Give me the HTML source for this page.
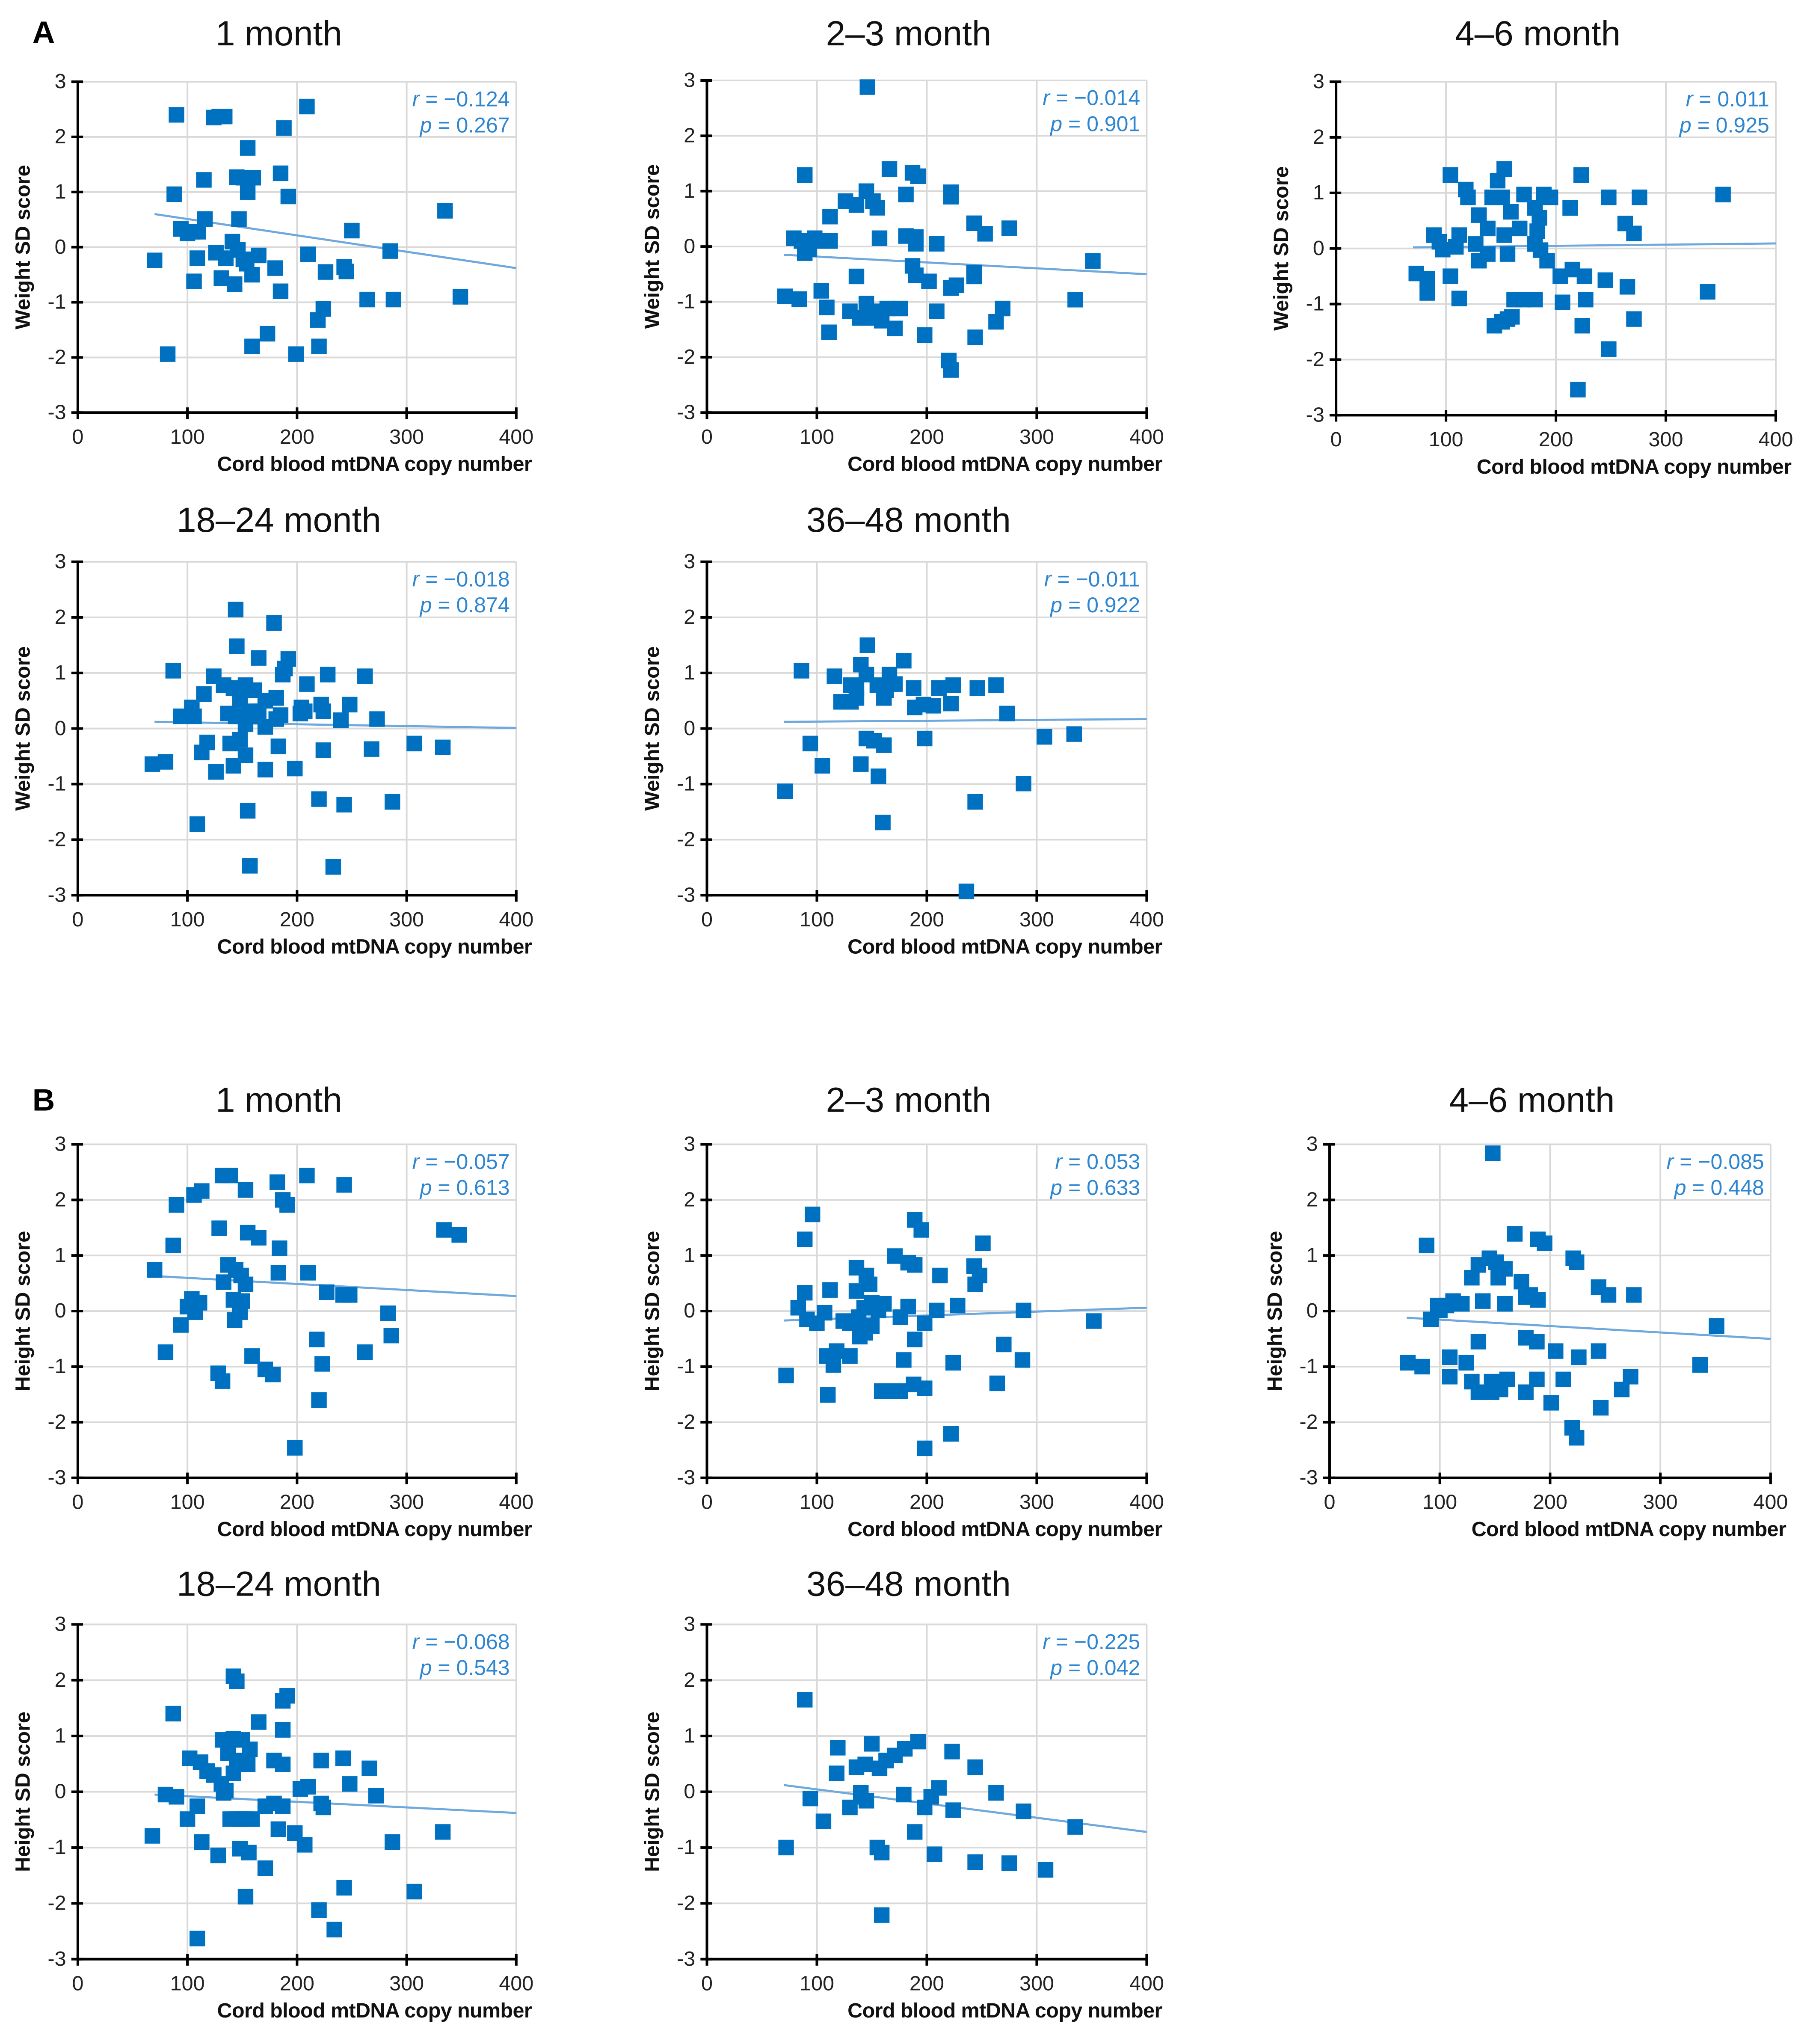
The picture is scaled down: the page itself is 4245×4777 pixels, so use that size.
<!DOCTYPE html>
<html><head><meta charset="utf-8"><style>
html,body{margin:0;padding:0;background:#fff;}
svg{display:block;}
text{font-family:"Liberation Sans",Arial,sans-serif;}
</style></head><body>
<svg id="fig" xmlns="http://www.w3.org/2000/svg" width="4245" height="4777" viewBox="0 0 1400 1575.4" preserveAspectRatio="none">
<text x="25" y="33" font-size="24" font-weight="bold">A</text>
<text x="25" y="856" font-size="24" font-weight="bold">B</text>
</svg>
<script>
const xTicks=[0,100,200,300,400];
const yTicks=[3,2,1,0,-1,-2,-3];
const a1X=[90,124,129,134,209,188,155,115,145,151,160,155,185,192,88,335,116,147,94,100,105,110,250,70,109,126,135,141,146,151,154,165,159,131,143,106,180,210,226,243,245,285,185,264,288,349,219,224,173,159,220,199,82];
const a1Y=[2.4,2.35,2.37,2.37,2.55,2.16,1.8,1.22,1.27,1.26,1.26,1.0,1.34,0.92,0.96,0.66,0.51,0.51,0.33,0.25,0.28,0.28,0.3,-0.24,-0.2,-0.1,-0.2,0.1,-0.05,-0.22,-0.3,-0.15,-0.5,-0.56,-0.67,-0.62,-0.38,-0.13,-0.45,-0.36,-0.44,-0.07,-0.8,-0.95,-0.95,-0.9,-1.32,-1.12,-1.57,-1.8,-1.8,-1.94,-1.94];
const a2X=[146,89,166,187,192,222,222,145,136,126,151,155,181,243,253,275,112,98,79,86,103,112,93,157,181,190,190,209,89,136,187,190,227,222,243,243,202,71,84,104,109,130,145,150,157,164,159,139,176,209,269,263,111,171,198,244,220,222,335,351];
const a2Y=[2.88,1.29,1.4,1.33,1.27,0.98,0.9,1.0,0.75,0.82,0.82,0.7,0.94,0.42,0.23,0.33,0.54,0.15,0.15,0.1,0.1,0.1,-0.05,0.15,0.19,0.17,0.05,0.05,-0.12,-0.54,-0.35,-0.52,-0.7,-0.75,-0.47,-0.54,-0.63,-0.9,-0.95,-0.8,-1.1,-1.17,-1.03,-1.29,-1.17,-1.12,-1.34,-1.29,-1.12,-1.17,-1.12,-1.36,-1.55,-1.48,-1.6,-1.64,-2.06,-2.23,-0.96,-0.26];
const a3X=[220,352,338,276,271,263,248,223,213,104,153,147,142,151,118,120,171,189,195,181,185,183,181,159,167,130,138,153,112,127,89,94,97,109,83,73,104,112,130,138,83,156,186,192,204,215,226,245,265,271,227,206,162,170,156,160,144,151,181,224,248];
const a3Y=[-2.54,0.97,-0.78,0.92,0.27,0.45,0.92,1.32,0.73,1.32,1.43,1.22,0.92,0.92,1.06,0.92,0.97,0.97,0.92,0.73,0.55,0.31,0.08,0.66,0.36,0.6,0.36,0.24,0.24,0.08,0.24,0.12,-0.02,0.03,-0.55,-0.45,-0.5,-0.9,-0.22,-0.1,-0.8,-0.1,-0.03,-0.22,-0.5,-0.38,-0.5,-0.57,-0.69,-1.27,-0.92,-0.97,-0.92,-0.92,-1.27,-1.23,-1.39,-1.32,-0.92,-1.39,-1.81];
const a4X=[144,179,145,165,192,189,187,87,124,228,262,133,142,153,161,115,209,181,171,148,104,106,157,161,165,137,144,204,207,222,224,203,248,240,273,94,181,185,153,171,118,139,148,113,153,183,224,268,68,80,126,142,171,198,307,333,220,243,287,109,155,157,233];
const a4Y=[2.14,1.9,1.48,1.27,1.25,1.08,0.97,1.04,0.94,0.97,0.94,0.78,0.73,0.78,0.69,0.62,0.8,0.55,0.5,0.5,0.38,0.22,0.31,0.22,0.31,0.27,0.22,0.38,0.31,0.43,0.31,0.27,0.43,0.15,0.17,0.22,0.17,0.24,0.08,0.03,-0.25,-0.27,-0.2,-0.43,-0.48,-0.32,-0.39,-0.37,-0.64,-0.6,-0.78,-0.67,-0.74,-0.72,-0.27,-0.34,-1.27,-1.37,-1.32,-1.72,-1.48,-2.47,-2.49];
const a5X=[146,179,140,145,86,166,116,131,136,155,163,171,188,211,224,263,246,122,131,136,161,197,206,222,189,273,145,152,161,198,94,307,334,105,140,156,71,288,244,160,236];
const a5Y=[1.5,1.22,1.15,0.97,1.04,0.97,0.94,0.78,0.73,0.78,0.69,0.8,0.73,0.73,0.78,0.78,0.73,0.48,0.48,0.55,0.55,0.43,0.41,0.45,0.38,0.27,-0.18,-0.22,-0.3,-0.18,-0.27,-0.15,-0.1,-0.67,-0.64,-0.86,-1.13,-0.99,-1.32,-1.69,-2.93];
const b1X=[132,139,209,182,243,106,113,153,90,187,191,129,155,165,184,87,334,348,70,137,144,149,133,153,210,183,104,111,100,94,107,142,150,148,143,227,242,248,283,286,80,159,171,178,128,132,218,223,262,220,198];
const b1Y=[2.44,2.44,2.44,2.32,2.27,2.09,2.16,2.18,1.91,2.0,1.91,1.49,1.41,1.32,1.13,1.18,1.46,1.37,0.74,0.83,0.74,0.64,0.52,0.48,0.69,0.69,0.22,0.15,0.08,-0.25,-0.02,0.2,0.18,-0.02,-0.16,0.34,0.29,0.29,-0.04,-0.44,-0.74,-0.81,-1.05,-1.14,-1.12,-1.26,-0.51,-0.95,-0.74,-1.6,-2.46];
const b2X=[96,189,195,89,251,171,136,145,183,189,212,243,248,244,148,112,136,89,83,91,100,107,124,130,138,143,150,156,161,144,150,139,176,183,198,228,209,288,109,115,118,130,179,189,224,72,110,159,168,176,188,198,264,270,287,352,222,198];
const b2Y=[1.74,1.64,1.46,1.29,1.22,0.99,0.78,0.64,0.87,0.83,0.64,0.81,0.64,0.48,0.48,0.38,0.36,0.33,0.06,-0.15,-0.22,-0.03,-0.18,-0.22,-0.11,0.06,0.15,0.01,0.13,-0.39,-0.27,-0.46,-0.11,0.08,-0.22,0.1,0.01,0.01,-0.81,-0.97,-0.72,-0.81,-0.88,-0.51,-0.93,-1.16,-1.51,-1.44,-1.44,-1.44,-1.32,-1.39,-1.3,-0.6,-0.88,-0.18,-2.21,-2.47];
const b3X=[148,168,189,195,88,145,135,129,159,153,151,221,224,244,253,276,174,182,189,178,159,139,92,100,98,106,112,120,135,109,124,178,188,205,226,244,71,84,109,129,147,155,161,147,135,178,188,212,201,246,273,265,220,224,336,351];
const b3Y=[2.84,1.39,1.29,1.22,1.18,0.95,0.83,0.6,0.76,0.6,0.88,0.95,0.88,0.43,0.29,0.29,0.53,0.29,0.2,0.25,0.13,0.18,-0.15,0.01,0.1,0.1,0.18,0.13,-0.55,-0.83,-0.93,-0.48,-0.55,-0.72,-0.83,-0.72,-0.93,-1.0,-1.18,-1.27,-1.27,-1.41,-1.23,-1.46,-1.46,-1.46,-1.23,-1.23,-1.65,-1.74,-1.18,-1.41,-2.1,-2.28,-0.97,-0.27];
const b4X=[109,142,145,191,187,87,165,132,142,150,187,157,137,102,112,118,124,145,155,179,187,222,266,248,242,142,131,135,80,90,109,100,133,139,144,149,153,159,171,179,187,203,210,222,224,272,68,113,128,148,156,171,153,183,198,207,287,243,220,234,307,333];
const b4Y=[-2.63,2.07,1.98,1.72,1.63,1.4,1.25,0.93,0.95,0.93,1.11,0.76,0.69,0.6,0.53,0.37,0.3,0.56,0.49,0.56,0.49,0.56,0.42,0.14,0.6,0.33,0.14,0.02,-0.05,-0.09,-0.26,-0.49,-0.02,-0.49,-0.49,-0.49,-0.49,-0.49,-0.26,-0.21,-0.26,0.05,0.09,-0.21,-0.28,-0.07,-0.79,-0.9,-1.14,-1.02,-1.09,-1.37,-1.88,-0.67,-0.74,-0.95,-0.9,-1.72,-2.12,-2.47,-1.79,-0.72];
const b5X=[89,119,150,192,180,223,171,163,136,144,157,118,244,94,140,145,140,130,179,198,204,211,263,224,288,106,189,72,155,159,207,244,275,308,335,159];
const b5Y=[1.65,0.79,0.86,0.9,0.77,0.72,0.65,0.56,0.44,0.49,0.42,0.33,0.44,-0.12,-0.02,-0.16,-0.09,-0.28,-0.05,-0.28,-0.09,0.07,-0.02,-0.33,-0.35,-0.53,-0.72,-1.0,-1.0,-1.09,-1.12,-1.26,-1.28,-1.4,-0.63,-2.21];
const trendA1=[0.6,-0.38],trendA2=[-0.15,-0.5],trendA3=[0.02,0.09],trendA4=[0.12,0.01],trendA5=[0.12,0.17];
const trendB1=[0.63,0.27],trendB2=[-0.17,0.06],trendB3=[-0.12,-0.5],trendB4=[-0.05,-0.38],trendB5=[0.12,-0.72];
const stats=[["−0.124","0.267"],["−0.014","0.901"],["0.011","0.925"],["−0.018","0.874"],["−0.011","0.922"],["−0.057","0.613"],["0.053","0.633"],["−0.085","0.448"],["−0.068","0.543"],["−0.225","0.042"]];
const titles=["1 month","2–3 month","4–6 month","18–24 month","36–48 month","1 month","2–3 month","4–6 month","18–24 month","36–48 month"];

const NS="http://www.w3.org/2000/svg";
const svg=document.getElementById('fig');
function mk(tag,attrs,parent,txt){const e=document.createElementNS(NS,tag);for(const k in attrs)e.setAttribute(k,attrs[k]);if(txt!==undefined)e.textContent=txt;(parent||svg).appendChild(e);return e;}

const layouts=[
 {x0:60,x1:398,y0:63,y1:318,ty:35},{x0:545,x1:884,y0:62,y1:318,ty:35},{x0:1030,x1:1369,y0:63,y1:320,ty:35},
 {x0:60,x1:398,y0:433,y1:690,ty:410},{x0:545,x1:884,y0:433,y1:690,ty:410},
 {x0:60,x1:398,y0:882,y1:1139,ty:857},{x0:545,x1:884,y0:882,y1:1139,ty:857},{x0:1025,x1:1365,y0:882,y1:1139,ty:857},
 {x0:60,x1:398,y0:1252,y1:1510,ty:1230},{x0:545,x1:884,y0:1252,y1:1510,ty:1230}];
const XS=[a1X,a2X,a3X,a4X,a5X,b1X,b2X,b3X,b4X,b5X];
const YS=[a1Y,a2Y,a3Y,a4Y,a5Y,b1Y,b2Y,b3Y,b4Y,b5Y];
const TR=[trendA1,trendA2,trendA3,trendA4,trendA5,trendB1,trendB2,trendB3,trendB4,trendB5];

layouts.forEach((L,i)=>{
  const g=mk('g',{});
  
  
  const sx=v=>L.x0+(v/400)*(L.x1-L.x0);
  const sy=v=>L.y0+((3-v)/6)*(L.y1-L.y0);
  const t=mk('text',{x:(L.x0+L.x1)/2-14,y:L.ty,'font-size':27,'text-anchor':'middle',fill:'#111'},g,titles[i]);
  
  
  xTicks.forEach(v=>{if(v>0){const l=mk('line',{x1:sx(v),x2:sx(v),y1:L.y0,y2:L.y1,stroke:'#d9d9d9','stroke-width':1.3},g);}});
  yTicks.forEach(v=>{if(v>-3){const l=mk('line',{x1:L.x0,x2:L.x1,y1:sy(v),y2:sy(v),stroke:'#d9d9d9','stroke-width':1.3},g);}});
  const ya=mk('line',{x1:L.x0,x2:L.x0,y1:L.y0,y2:L.y1,stroke:'#000','stroke-width':2},g);
  
  const xa=mk('line',{x1:L.x0,x2:L.x1,y1:L.y1,y2:L.y1,stroke:'#000','stroke-width':2},g);
  
  yTicks.forEach(v=>{
    mk('line',{x1:L.x0-5,x2:L.x0+4,y1:sy(v),y2:sy(v),stroke:'#000','stroke-width':2},g);
    const tl=mk('text',{x:L.x0-9,y:sy(v)+5,'font-size':16,'text-anchor':'end',fill:'#222'},g,String(v));
    
  });
  xTicks.forEach(v=>{
    mk('line',{x1:sx(v),x2:sx(v),y1:L.y1-4,y2:L.y1+5,stroke:'#000','stroke-width':2},g);
    const tl=mk('text',{x:sx(v),y:L.y1+24,'font-size':16,'text-anchor':'middle',fill:'#222'},g,String(v));
    
  });
  const xt=mk('text',{x:L.x1+12,y:L.y1+45,'font-size':16,'font-weight':'bold','text-anchor':'end',fill:'#111','letter-spacing':'-0.2'},g,'Cord blood mtDNA copy number');
  
  const cy=(L.y0+L.y1)/2;
  const yt=mk('text',{x:L.x0-37,y:cy,'font-size':16,'font-weight':'bold','text-anchor':'middle',fill:'#111',transform:`rotate(-90 ${L.x0-37} ${cy})`},g,(i<5?'Weight':'Height')+' SD score');
  
  const tr=TR[i];
  const tl=mk('line',{x1:sx(70),y1:sy(tr[0]),x2:sx(400),y2:sy(tr[1]),stroke:'#6fa8dc','stroke-width':1.6},g);
  
  XS[i].forEach((xv,k)=>{
    const r=mk('rect',{x:sx(xv)-6,y:sy(YS[i][k])-6,width:12,height:12,fill:'#0070c0'},g);
    
    
  });
  const s1=mk('text',{x:L.x1-5,y:L.y0+19,'font-size':16.5,'text-anchor':'end',fill:'#2e86d0'},g);
  
  mk('tspan',{'font-style':'italic'},s1,'r');mk('tspan',{},s1,' = '+stats[i][0]);
  const s2=mk('text',{x:L.x1-5,y:L.y0+39,'font-size':16.5,'text-anchor':'end',fill:'#2e86d0'},g);
  
  mk('tspan',{'font-style':'italic'},s2,'p');mk('tspan',{},s2,' = '+stats[i][1]);
});
</script>
</body></html>
